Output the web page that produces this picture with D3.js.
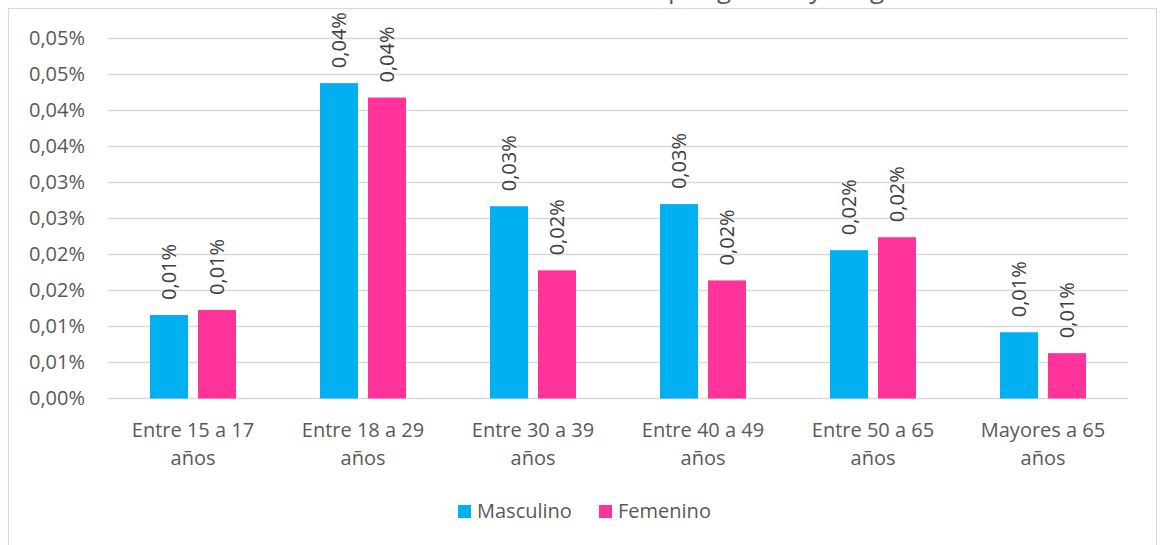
<!DOCTYPE html>
<html>
<head>
<meta charset="utf-8">
<script src="https://cdn.jsdelivr.net/npm/d3@7"></script>
<style>
  html, body { margin: 0; padding: 0; background: #fff; }
  svg { display: block; font-family: "Open Sans", sans-serif; }
</style>
</head>
<body>
<div id="chart"></div>
<script>
// datos (valores en %)
var categorias = [["Entre 15 a 17", "años"], ["Entre 18 a 29", "años"], ["Entre 30 a 39", "años"],
                  ["Entre 40 a 49", "años"], ["Entre 50 a 65", "años"], ["Mayores a 65", "años"]];
var series = ["Masculino", "Femenino"];
var masculino = [0.0116, 0.0438, 0.0267, 0.0270, 0.0206, 0.0092];
var femenino  = [0.0123, 0.0418, 0.0178, 0.0164, 0.0224, 0.0063];
var yTicks = [0, 0.005, 0.01, 0.015, 0.02, 0.025, 0.03, 0.035, 0.04, 0.045, 0.05];
var yTickLabels = ["0,00%", "0,01%", "0,01%", "0,02%", "0,02%", "0,03%", "0,03%", "0,04%", "0,04%", "0,05%", "0,05%"];
var titulo = "Distribución de casos por género y rango de edad";

var colores = { "Masculino": "#00B0F0", "Femenino": "#FF3399" };
var valores = { "Masculino": masculino, "Femenino": femenino };

var W = 1161, H = 545;
var plot = { left: 108, right: 1128, top: 38.5, bottom: 398.5 };
var fs = "20px";

var svg = d3.select("#chart").append("svg")
  .attr("width", W)
  .attr("height", H);

// marco del grafico
svg.append("rect")
  .attr("x", 8.5).attr("y", 8.5)
  .attr("width", 1148).attr("height", 560)
  .attr("fill", "#fff")
  .attr("stroke", "#d9d9d9")
  .attr("stroke-width", 1.2);

// titulo (queda cortado arriba, solo se ven los descendentes)
var t = svg.append("text")
  .attr("y", -2)
  .attr("fill", "#595959")
  .style("font-size", "26px")
  .text(titulo);
var pre = t.node().getSubStringLength(0, titulo.indexOf("por"));
t.attr("x", 668 - pre);

var x0 = d3.scaleBand()
  .domain(d3.range(categorias.length))
  .range([plot.left, plot.right]);

var x1 = d3.scaleBand()
  .domain(series)
  .range([42, 128])
  .paddingInner(10 / 48);

var y = d3.scaleLinear()
  .domain([0, 0.05])
  .range([plot.bottom, plot.top]);

// lineas de cuadricula
svg.append("g")
  .selectAll("line")
  .data(yTicks)
  .enter()
  .append("line")
  .attr("x1", plot.left)
  .attr("x2", plot.right)
  .attr("y1", function(d){ return y(d); })
  .attr("y2", function(d){ return y(d); })
  .attr("stroke", "#d9d9d9")
  .attr("stroke-width", 1.3);

// eje y
var ejeY = svg.append("g")
  .attr("transform", "translate(" + plot.left + ",0)")
  .call(d3.axisLeft(y)
    .tickValues(yTicks)
    .tickSize(0)
    .tickPadding(23)
    .tickFormat(function(d, i){ return yTickLabels[i]; }));
ejeY.select(".domain").remove();
ejeY.selectAll("text")
  .attr("fill", "#595959")
  .style("font-size", fs)
  .style("font-family", "'Open Sans', sans-serif");

// barras
var fmt = function(v){ return (Math.round(v * 100) / 100).toFixed(2).replace(".", ",") + "%"; };

var grupos = svg.append("g")
  .selectAll("g")
  .data(categorias)
  .enter()
  .append("g")
  .attr("transform", function(d, i){ return "translate(" + x0(i) + ",0)"; });

grupos.each(function(c, i){
  var g = d3.select(this);
  var filas = series.map(function(s){ return { s: s, v: valores[s][i] }; });

  g.selectAll("rect")
    .data(filas)
    .enter()
    .append("rect")
    .attr("x", function(d){ return x1(d.s); })
    .attr("y", function(d){ return y(d.v); })
    .attr("width", x1.bandwidth())
    .attr("height", function(d){ return y(0) - y(d.v); })
    .attr("fill", function(d){ return colores[d.s]; });

  g.selectAll("text.etq")
    .data(filas)
    .enter()
    .append("text")
    .attr("class", "etq")
    .attr("transform", function(d){
      return "translate(" + (x1(d.s) + x1.bandwidth() / 2 + 7) + "," + (y(d.v) - 15) + ") rotate(-90)";
    })
    .attr("fill", "#404040")
    .style("font-size", fs)
    .text(function(d){ return fmt(d.v); });
});

// etiquetas de categoria
var ejeX = svg.append("g")
  .selectAll("text")
  .data(categorias)
  .enter()
  .append("text")
  .attr("x", function(d, i){ return x0(i) + x0.bandwidth() / 2; })
  .attr("y", 437)
  .attr("text-anchor", "middle")
  .attr("fill", "#595959")
  .style("font-size", fs);
ejeX.selectAll("tspan")
  .data(function(d){ return d; })
  .enter()
  .append("tspan")
  .attr("x", function(){ return d3.select(this.parentNode).attr("x"); })
  .attr("dy", function(d, i){ return i ? 28 : 0; })
  .text(function(d){ return d; });

// leyenda
var leyX = [458, 599];
var ley = svg.append("g")
  .selectAll("g")
  .data(series)
  .enter()
  .append("g")
  .attr("transform", function(d, i){ return "translate(" + leyX[i] + ",505)"; });
ley.append("rect")
  .attr("width", 13).attr("height", 13)
  .attr("fill", function(d){ return colores[d]; });
ley.append("text")
  .attr("x", 19)
  .attr("y", 13)
  .attr("fill", "#595959")
  .style("font-size", fs)
  .text(function(d){ return d; });
</script>
</body>
</html>
